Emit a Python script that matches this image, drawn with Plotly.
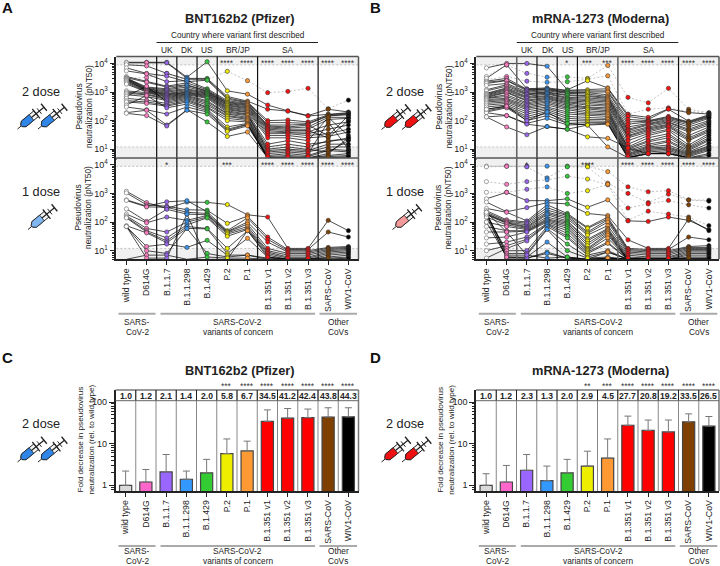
import math
import plotly.graph_objects as go

W, H = 720, 566
FONT = "Liberation Sans"
TXT = "#222222"

categories = ["wild type", "D614G", "B.1.1.7", "B.1.1.298", "B.1.429", "P.2", "P.1",
              "B.1.351 v1", "B.1.351 v2", "B.1.351 v3", "SARS-CoV", "WIV1-CoV"]
marker_colors = ["#ffffff", "#ff7fc4", "#9a66f0", "#3a96f0", "#33c93a", "#f0ea00", "#ff9a33",
                 "#ff1010", "#ff1010", "#ff1010", "#7f4000", "#000000"]
bar_colors = ["#d9d9d9", "#ff66cc", "#9966ff", "#3399ff", "#33cc33", "#eeee00", "#ff9933",
              "#ff0000", "#ff0000", "#ff0000", "#7f3f00", "#000000"]

# Subject-level pNT50 (columns follow `categories`)
pfizer_2dose_dotted = [
    [3000, 3200, 4500, 2600, 2700, 5300, 2500, 950, 1050, 1350, 260, 520],
]
pfizer_2dose = [
    [11000, 11000, 11000, 3300, 11500, 1100, 840, 350, 220, 150, 250, 200],
    [10500, 10800, 10500, 3000, 3000, 700, 480, 250, 215, 145, 170, 190],
    [9000, 8200, 4500, 2800, 2800, 620, 450, 100, 105, 90, 160, 180],
    [7000, 4500, 3600, 2300, 2600, 560, 430, 85, 85, 80, 150, 170],
    [5500, 4300, 2300, 2500, 1300, 500, 400, 70, 70, 75, 145, 160],
    [3500, 2400, 1600, 2100, 1200, 450, 380, 65, 60, 70, 30, 150],
    [3200, 2200, 1500, 1800, 1100, 430, 350, 60, 55, 60, 130, 130],
    [3100, 1500, 1300, 1700, 1050, 400, 330, 55, 50, 50, 110, 120],
    [3000, 1400, 1200, 1500, 1000, 380, 300, 50, 45, 45, 25, 100],
    [2900, 1300, 1100, 1300, 950, 350, 280, 45, 40, 40, 70, 90],
    [2800, 1250, 1000, 1200, 900, 330, 260, 40, 38, 35, 50, 70],
    [2600, 1200, 900, 1100, 850, 300, 240, 35, 35, 30, 35, 50],
    [2500, 1150, 850, 1000, 800, 280, 220, 30, 30, 25, 28, 40],
    [2300, 1100, 800, 950, 750, 260, 200, 25, 25, 20, 130, 30],
    [2100, 1050, 750, 900, 700, 240, 190, 15, 20, 15, 18, 25],
    [1900, 1000, 700, 850, 650, 220, 170, 12, 15, 12, 20, 22],
    [1100, 950, 650, 800, 600, 200, 160, 10, 12, 10, 8, 20],
    [1000, 850, 600, 750, 500, 180, 150, 9, 10, 9, 15, 15],
    [900, 800, 550, 700, 450, 170, 130, 8, 9, 8, 12, 12],
    [800, 700, 500, 650, 400, 150, 120, 7, 8, 7, 90, 10],
    [700, 1600, 450, 600, 350, 140, 110, 6, 7, 6, 10, 9],
    [600, 520, 400, 550, 300, 120, 100, 5.5, 6, 5.5, 9, 8],
    [500, 450, 350, 500, 280, 100, 90, 5, 5.5, 5, 7, 25],
    [450, 400, 320, 450, 250, 60, 80, 5, 5, 5, 6, 7],
    [350, 750, 280, 380, 220, 50, 75, 5, 5, 5, 5.5, 6],
    [300, 240, 170, 300, 200, 45, 72, 5, 5, 5, 5, 5.5],
    [190, 230, 70, 240, 90, 28, 40, 5, 5, 5, 5, 5],
    [180, 150, 65, 230, 170, 42, 65, 5, 5, 5, 5, 5],
]
pfizer_1dose = [
    [1200, 480, 300, 500, 490, 410, 180, 150, 12, 12, 115, 50],
    [1050, 400, 360, 270, 260, 90, 160, 30, 11, 11, 45, 30],
    [600, 360, 510, 560, 230, 50, 140, 25, 10, 10, 13, 14],
    [570, 340, 330, 220, 200, 47, 100, 20, 9, 9, 12, 13],
    [290, 105, 280, 190, 180, 45, 85, 12, 8, 8, 11, 12],
    [190, 95, 150, 115, 170, 42, 70, 10, 7, 7, 10, 11],
    [165, 60, 45, 100, 150, 38, 60, 9, 6, 6, 9, 10],
    [150, 50, 28, 80, 140, 32, 55, 8, 5.5, 5.5, 8, 9],
    [140, 45, 22, 70, 60, 12, 50, 7, 5, 5, 7, 8],
    [75, 42, 19, 60, 58, 8, 27, 6, 5, 5, 6, 7],
    [70, 14, 17, 13, 23, 7, 7, 5.5, 5, 5, 5.5, 6],
    [70, 10, 8, 60, 8, 6, 7, 5, 5, 5, 5, 5.5],
    [5, 7, 7, 5, 6, 5.5, 5.5, 5, 5, 5, 5, 5],
    [70, 5.5, 5.5, 190, 5, 5, 50, 6, 5, 5, 5, 5],
]
moderna_2dose_dotted = [
    [3500, 8800, 4500, 3300, 3400, 3000, 8500, 650, 420, 1350, 250, 190],
    [2700, 3500, 2400, 2200, 2300, 2800, 3700, 170, 250, 280, 210, 180],
]
moderna_2dose = [
    [7000, 10000, 10000, 8000, 1200, 2500, 1400, 160, 130, 260, 190, 170],
    [3000, 9000, 1300, 1400, 1150, 1200, 1300, 140, 110, 250, 95, 160],
    [2400, 3000, 1250, 1300, 1100, 1100, 1100, 110, 100, 140, 90, 150],
    [2200, 2600, 1200, 1250, 1000, 1000, 1000, 90, 95, 130, 85, 140],
    [2000, 2500, 1100, 1200, 950, 950, 800, 75, 90, 120, 80, 130],
    [1700, 2000, 1000, 1100, 900, 850, 700, 60, 80, 110, 70, 120],
    [1200, 1800, 900, 1000, 800, 750, 650, 50, 75, 100, 60, 100],
    [1100, 1600, 850, 950, 750, 700, 600, 45, 70, 90, 50, 90],
    [900, 1400, 800, 900, 650, 620, 550, 40, 60, 85, 45, 80],
    [850, 1300, 700, 850, 600, 560, 500, 35, 55, 75, 40, 70],
    [800, 1200, 650, 750, 550, 500, 450, 30, 50, 70, 30, 60],
    [750, 1100, 600, 700, 500, 450, 400, 28, 45, 65, 25, 50],
    [700, 1000, 520, 650, 450, 400, 350, 25, 40, 60, 22, 45],
    [650, 950, 480, 600, 420, 350, 320, 20, 35, 50, 20, 40],
    [620, 800, 420, 560, 380, 300, 280, 15, 30, 45, 14, 35],
    [600, 700, 380, 500, 340, 280, 250, 12, 25, 35, 12, 30],
    [550, 600, 340, 450, 300, 250, 220, 11, 20, 30, 11, 25],
    [500, 550, 300, 400, 270, 220, 200, 10, 18, 25, 10, 22],
    [450, 500, 270, 350, 240, 190, 180, 9, 15, 20, 9, 20],
    [400, 450, 240, 300, 200, 170, 160, 8, 13, 18, 8, 16],
    [350, 400, 200, 270, 170, 150, 140, 7, 12, 14, 7.5, 13],
    [300, 350, 170, 240, 140, 130, 120, 6.5, 11, 12, 7, 12],
    [250, 320, 140, 210, 120, 110, 110, 6, 10, 11, 6.5, 11],
    [220, 300, 120, 180, 100, 95, 95, 5.5, 9, 10, 6, 10],
    [200, 280, 100, 150, 80, 85, 85, 5, 8, 9, 5.5, 9],
    [190, 150, 80, 120, 70, 75, 80, 5, 7, 8, 5, 7],
    [135, 150, 75, 62, 50, 70, 75, 5, 7, 7, 5, 6],
    [135, 60, 32, 62, 50, 27, 24, 11, 7, 7, 5, 5],
    [250, 320, 100, 200, 80, 70, 12, 5, 7, 7, 5, 5],
]
moderna_1dose_dotted = [
    [9000, 9200, 9000, 9000, 9000, 9200, 5800, 1700, 1150, 1250, 600, 580],
    [8500, 8800, 8500, 3500, 8500, 8500, 2300, 1000, 480, 950, 590, 540],
    [2600, 2100, 2600, 3000, 4000, 3200, 2000, 310, 430, 570, 400, 310],
    [1100, 1100, 1400, 1700, 1000, 1250, 2100, 115, 240, 190, 150, 75],
]
moderna_1dose = [
    [650, 1100, 560, 560, 650, 330, 600, 110, 105, 150, 115, 55],
    [500, 230, 320, 480, 430, 200, 170, 24, 12, 12, 130, 50],
    [300, 220, 110, 400, 200, 65, 150, 12, 11, 11, 30, 24],
    [250, 120, 100, 320, 180, 60, 130, 11, 10, 10, 14, 15],
    [220, 110, 90, 260, 170, 45, 120, 10, 9, 9, 13, 13],
    [200, 100, 80, 220, 150, 40, 100, 9, 8, 8, 12, 12],
    [190, 95, 70, 200, 130, 35, 75, 8, 7, 7, 11, 11],
    [180, 90, 65, 180, 110, 25, 60, 7, 6, 6, 10, 10],
    [150, 80, 60, 150, 100, 22, 55, 6, 5.5, 5.5, 9, 9],
    [100, 70, 55, 130, 90, 18, 50, 5.5, 5, 5, 8, 8],
    [70, 50, 50, 120, 80, 15, 45, 5, 5, 5, 7, 7],
    [45, 45, 48, 110, 70, 12, 40, 5, 5, 5, 6, 6],
    [28, 30, 45, 100, 60, 11, 35, 5, 5, 5, 5.5, 5.5],
    [17, 20, 30, 90, 50, 10, 28, 5, 5, 5, 5, 5],
    [10, 15, 25, 85, 40, 9, 20, 5, 5, 5, 5, 5],
    [5.5, 12, 22, 80, 32, 8, 18, 5, 5, 5, 5, 5],
    [180, 10, 10, 70, 28, 7, 10, 5, 5, 5, 5, 5],
    [200, 8, 8, 60, 17, 6, 9, 5, 5, 5, 5, 5],
    [220, 7, 7, 55, 10, 5.5, 6, 5, 5, 5, 5, 5],
    [150, 6, 6, 20, 6, 5, 5.5, 5, 5, 5, 5, 5],
    [190, 5.5, 5.5, 9, 5.5, 5, 5.5, 5, 5, 5, 5, 5],
    [100, 6, 5.5, 8, 5.5, 5, 5.5, 5, 5, 5, 5, 5],
    [220, 45, 7, 5.5, 6, 5, 9, 5, 5, 5, 5, 5],
]

pfizer_fold = [1.0, 1.2, 2.1, 1.4, 2.0, 5.8, 6.7, 34.5, 41.2, 42.4, 43.8, 44.3]
pfizer_fold_upper = [2.2, 2.4, 5.5, 2.2, 4.2, 13, 11.5, 65, 70, 68, 73, 73]
moderna_fold = [1.0, 1.2, 2.3, 1.3, 2.0, 2.9, 4.5, 27.7, 20.8, 19.2, 33.5, 26.5]
moderna_fold_upper = [1.9, 3.0, 5.5, 2.9, 4.2, 6.6, 13, 46, 37, 37, 52, 45]

stars_a2 = ["", "", "", "", "", "****", "****", "****", "****", "****", "****", "****"]
stars_a1 = ["", "", "*", "", "", "***", "", "****", "****", "****", "****", "****"]
stars_b2 = ["", "", "", "", "*", "***", "***", "****", "****", "****", "****", "****"]
stars_b1 = ["", "", "*", "", "", "****", "", "****", "****", "****", "****", "****"]
stars_c = ["", "", "", "", "", "***", "****", "****", "****", "****", "****", "****"]
stars_d = ["", "", "", "", "", "**", "***", "****", "****", "****", "****", "****"]

y_ticks = [10, 100, 1000, 10000]
y_labels = ["10<sup>1</sup>", "10<sup>2</sup>", "10<sup>3</sup>", "10<sup>4</sup>"]
bar_ticks = [1, 10, 100]
bar_labels = ["1", "10", "100"]
LOD_LOW, LOD_HIGH = 12, 8900

fig = go.Figure()
shapes, annos = [], []


def T(x, y, text, size=8.4, bold=False, angle=0, color=TXT, xanchor="center"):
    annos.append(dict(x=x / W, y=1 - y / H, xref="paper", yref="paper", text=f"<b>{text}</b>" if bold else text,
                      showarrow=False, xanchor=xanchor, yanchor="middle", textangle=angle, borderpad=0,
                      font=dict(family=FONT, size=size, color=color), align="center"))


def ax_names(n):
    s = "" if n == 1 else str(n)
    return f"x{s}", f"y{s}", f"xaxis{s}", f"yaxis{s}"


def minor_vals(lo, hi):
    out = []
    for d in range(lo, hi):
        for m in range(2, 10):
            out.append(m * 10 ** d)
    return out


def set_axes(n, box, yrange, ticks, labels, minor, show_x, line_color):
    xr, yr, xa, ya = ax_names(n)
    l, r, t, b = box
    fig.update_layout({
        xa: dict(domain=[l / W, r / W], range=[-0.5, 11.5], anchor=yr, tickmode="array",
                 tickvals=list(range(12)) if show_x else [], ticktext=categories if show_x else [],
                 showticklabels=show_x,
                 tickangle=-90, ticks="outside" if show_x else "", ticklen=4, tickwidth=1, tickcolor="#222",
                 showgrid=False, zeroline=False, showline=True, linecolor="#222", linewidth=1.5,
                 tickfont=dict(family=FONT, size=8.7, color=TXT)),
        ya: dict(domain=[1 - b / H, 1 - t / H], type="log", range=yrange, anchor=xr, tickmode="array",
                 tickvals=ticks, ticktext=labels, ticks="outside", ticklen=5, tickwidth=1.2, tickcolor="#222",
                 minor=dict(tickvals=minor, ticks="outside", ticklen=2.5, tickcolor="#222", tickwidth=0.8),
                 showgrid=False, zeroline=False, showline=True, linecolor="#222", linewidth=1.5,
                 tickfont=dict(family=FONT, size=9, color=TXT)),
    })
    shapes.append(dict(type="line", xref=f"{xr} domain", yref=f"{yr} domain", x0=0, x1=1, y0=1, y1=1,
                       line=dict(color=line_color, width=1.5)))
    shapes.append(dict(type="line", xref=f"{xr} domain", yref=f"{yr} domain", x0=1, x1=1, y0=0, y1=1,
                       line=dict(color=line_color, width=1.5)))


def spaghetti(n, box, rows, dotted, stars, star_y, show_x, gray_div=()):
    xr, yr, _, _ = ax_names(n)
    set_axes(n, box, [math.log10(5), 4.24], y_ticks, y_labels, minor_vals(1, 4) + [5, 6, 7, 8, 9], show_x, "#555")
    for y0, y1 in ((5, LOD_LOW), (LOD_HIGH, 10 ** 4.24)):
        shapes.append(dict(type="rect", xref=xr, yref=yr, x0=-0.5, x1=11.5, y0=y0, y1=y1, layer="below",
                           fillcolor="#f0f0f0", line=dict(width=0)))
    for yv in (LOD_LOW, LOD_HIGH):
        shapes.append(dict(type="line", xref=xr, yref=yr, x0=-0.5, x1=11.5, y0=yv, y1=yv, layer="below",
                           line=dict(color="#aaa", width=0.7, dash="2px,2px")))
    for i, xv in enumerate((1.5, 2.5, 3.5, 4.5, 6.5, 9.5)):
        gray = i in gray_div
        shapes.append(dict(type="line", xref=xr, yref=f"{yr} domain", x0=xv, x1=xv, y0=0, y1=1,
                           line=dict(color="#666" if gray else "#111", width=1.6 if gray else 1.2)))
    xs = list(range(12))
    for row in dotted:
        fig.add_trace(go.Scatter(x=xs, y=row, mode="lines", xaxis=xr, yaxis=yr, showlegend=False, hoverinfo="skip",
                                 line=dict(color="#999", width=0.6, dash="2px,2px")))
    for row in rows:
        fig.add_trace(go.Scatter(x=xs, y=row, mode="lines", xaxis=xr, yaxis=yr, showlegend=False, hoverinfo="skip",
                                 line=dict(color="#000000", width=0.7)))
    allrows = dotted + rows
    for c in range(12):
        ys = [r[c] for r in allrows]
        fig.add_trace(go.Scatter(x=[c] * len(ys), y=ys, mode="markers", xaxis=xr, yaxis=yr, showlegend=False,
                                 hoverinfo="skip", cliponaxis=False,
                                 marker=dict(size=4.2, color=marker_colors[c],
                                             line=dict(color="#666" if c == 0 else "#333", width=0.6))))
    for c, s in enumerate(stars):
        if s:
            annos.append(dict(x=c, y=1 - star_y / H, xref=xr, yref="paper", text=s, showarrow=False, xanchor="center",
                              yanchor="middle", font=dict(family=FONT, size=8.4, color="#333")))


def bars(n, box, vals, upper, stars, dark_row_y):
    xr, yr, _, _ = ax_names(n)
    l, r, t, b = box
    set_axes(n, box, [math.log10(0.73), 2.29], bar_ticks, bar_labels, minor_vals(-1, 2) + [200], True, "#777")
    errs = [u - v for u, v in zip(upper, vals)]
    fig.add_trace(go.Bar(x=list(range(12)), y=vals, xaxis=xr, yaxis=yr, width=0.6, showlegend=False, hoverinfo="skip",
                         marker=dict(color=bar_colors, line=dict(color="#444", width=1.2)),
                         error_y=dict(type="data", symmetric=False, array=errs, arrayminus=[0] * 12,
                                      color="#777", thickness=1, width=3.5)))
    for c in range(11):
        shapes.append(dict(type="line", xref=xr, yref=f"{yr} domain", x0=c + 0.5, x1=c + 0.5, y0=0, y1=1,
                           line=dict(color="#888", width=1)))
        shapes.append(dict(type="line", xref=xr, yref="paper", x0=c + 0.5, x1=c + 0.5,
                           y0=1 - dark_row_y / H, y1=1 - t / H, line=dict(color="#222", width=1)))
    shapes.append(dict(type="line", xref=f"{xr} domain", yref="paper", x0=0, x1=1,
                       y0=1 - dark_row_y / H, y1=1 - dark_row_y / H, line=dict(color="#666", width=1)))
    for c, v in enumerate(vals):
        annos.append(dict(x=c, y=1 - 395.8 / H, xref=xr, yref="paper", text=f"<b>{v:.1f}</b>",
                          showarrow=False, xanchor="center", yanchor="middle",
                          font=dict(family=FONT, size=8.6, color="#222")))
    for c, s in enumerate(stars):
        if s:
            annos.append(dict(x=c, y=1 - 385.5 / H, xref=xr, yref="paper", text=s, showarrow=False, xanchor="center",
                              yanchor="middle", font=dict(family=FONT, size=8.4, color="#333")))


def syringe(tx, ty, fill, scale=1.0):
    """Icon drawn in page coordinates from the needle tip."""
    dx, dy = 28 / 36, -23 / 36
    nx, ny = -dy, dx

    def P(s, w):
        return (tx + dx * s * scale + nx * w * scale) / W, 1 - (ty + dy * s * scale + ny * w * scale) / H

    def poly(pts, fc, lc="#222", lw=1.0):
        d = "M " + " L ".join(f"{P(s, w)[0]:.5f},{P(s, w)[1]:.5f}" for s, w in pts) + " Z"
        shapes.append(dict(type="path", xref="paper", yref="paper", path=d, fillcolor=fc, line=dict(color=lc, width=lw)))

    def seg(a, b, lw=1.2):
        x0, y0 = P(*a)
        x1, y1 = P(*b)
        shapes.append(dict(type="line", xref="paper", yref="paper", x0=x0, y0=y0, x1=x1, y1=y1,
                           line=dict(color="#222", width=lw)))

    seg((0, 0), (7, 0), 1)
    poly([(5, -1), (8, -3.6), (24, -3.6), (24, 3.6), (8, 3.6), (5, 1)], "#f4f4f4")
    poly([(5, -1), (8, -3.6), (18, -3.6), (18, 3.6), (8, 3.6), (5, 1)], fill, lw=0.8)
    seg((24, -6), (24, 6), 1.2)
    seg((18, 0), (34, 0), 1.2)
    seg((34, -4.5), (34, 4.5), 1.3)
    seg((28, -3.5), (28, 3.5), 1.0)


A2 = (116.3, 358.5, 56.6, 157.8)
A1 = (116.3, 358.5, 158, 259.3)
B2 = (476.3, 719, 56.6, 157.8)
B1 = (476.3, 719, 158, 259.3)
C = (115.5, 358.5, 390, 491)
D = (476, 719, 390, 491)

spaghetti(1, A2, pfizer_2dose, pfizer_2dose_dotted, stars_a2, 63, False)
spaghetti(2, A1, pfizer_1dose, [], stars_a1, 165, True)
spaghetti(3, B2, moderna_2dose, moderna_2dose_dotted, stars_b2, 63, False, gray_div=(0, 4))
spaghetti(4, B1, moderna_1dose, moderna_1dose_dotted, stars_b1, 165, True, gray_div=(0, 4))
bars(5, C, pfizer_fold, pfizer_fold_upper, stars_c, 400.7)
bars(6, D, moderna_fold, moderna_fold_upper, stars_d, 400.7)

for x0, title in ((240, "BNT162b2 (Pfizer)"), (600, "mRNA-1273 (Moderna)")):
    T(x0, 18, title, 12.8, True)
    T(x0, 370.7, title, 12.8, True)

for off in (0, 360.3):
    T(237.5 + off, 35.5, "Country where variant first described", 8.2)
    shapes.append(dict(type="line", xref="paper", yref="paper", x0=(156.5 + off) / W, x1=(318 + off) / W,
                       y0=1 - 42.5 / H, y1=1 - 42.5 / H, line=dict(color="#222", width=1)))
    for xt, lab in ((167, "UK"), (187.3, "DK"), (207.5, "US"), (237.8, "BR/JP"), (288.3, "SA")):
        T(xt + off, 49.7, lab, 8.4)
    for yc in (106.5, 207.5):
        T(78 + off, yc, "Pseudovirus", 8.4, angle=-90)
        T(88.5 + off, yc, "neutralization (pNT50)", 8.4, angle=-90)
    T(79.5 + off, 440, "Fold decrease in pseudovirus", 8.1, angle=-90)
    T(90.5 + off, 440, "neutralization (rel. to wild type)", 8.1, angle=-90)
    for ybar, y1, y2 in ((313.7, 321.5, 332), (546, 550.8, 560.8)):
        for a, b, l1, l2 in ((118.5, 155.5, "SARS-", "CoV-2"), (160.5, 315, "SARS-CoV-2", "variants of concern"),
                             (319.5, 357, "Other", "CoVs")):
            shapes.append(dict(type="line", xref="paper", yref="paper", x0=(a + off) / W, x1=(b + off) / W,
                               y0=1 - ybar / H, y1=1 - ybar / H, line=dict(color="#aaa", width=2)))
            T((a + b) / 2 + off, y1, l1, 8.3)
            T((a + b) / 2 + off, y2, l2, 8.3)

for x, y, s in ((41, 92, "2 dose"), (41, 192, "1 dose"), (41, 424, "2 dose"),
                (405, 92, "2 dose"), (405, 192, "1 dose"), (405, 424, "2 dose")):
    T(x, y, s, 12.7)
for x, y, s in ((7.5, 7.5, "A"), (375.5, 7.5, "B"), (7, 357, "C"), (375.5, 357, "D")):
    T(x, y, s, 15, True, color="#111")

BLUE, RED, PINK, LBLUE = "#2f86e6", "#ee1111", "#f59a9a", "#7fb6f0"
syringe(17.5, 129, BLUE)
syringe(38, 129, BLUE)
syringe(381.5, 129.5, RED)
syringe(402, 129.5, RED)
syringe(28, 229.5, LBLUE)
syringe(392.5, 229.5, PINK)
syringe(17.5, 462, BLUE)
syringe(38, 462, BLUE)
syringe(381.5, 462, RED)
syringe(402, 462, RED)

fig.update_layout(width=W, height=H, autosize=False, margin=dict(l=0, r=0, t=0, b=0), paper_bgcolor="white",
                  plot_bgcolor="white", showlegend=False, shapes=shapes, annotations=annos, barmode="overlay",
                  font=dict(family=FONT, color=TXT))
fig.write_html("out.html", config={"displayModeBar": False},
               post_script="document.body.style.margin='0';document.body.style.padding='0';")
